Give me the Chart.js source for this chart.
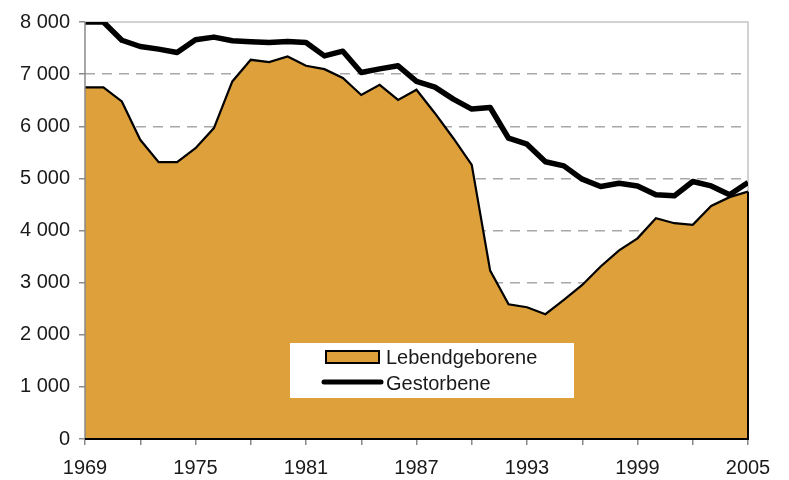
<!DOCTYPE html>
<html>
<head>
<meta charset="utf-8">
<script src="https://cdn.jsdelivr.net/npm/chart.js@4.4.0/dist/chart.umd.min.js"></script>
<style>
  html, body { margin: 0; padding: 0; background: #fff; }
</style>
</head>
<body>
<canvas id="birthsChart" width="789" height="480"></canvas>
<script>
// Jahre 1969 - 2005
const years = [1969, 1970, 1971, 1972, 1973, 1974, 1975, 1976, 1977, 1978, 1979, 1980,
    1981, 1982, 1983, 1984, 1985, 1986, 1987, 1988, 1989, 1990, 1991, 1992, 1993,
    1994, 1995, 1996, 1997, 1998, 1999, 2000, 2001, 2002, 2003, 2004, 2005];

const lebendgeborene = [6745, 6745, 6475, 5740, 5310, 5310, 5580, 5965, 6860, 7275, 7230, 7340,
    7160, 7095, 6925, 6600, 6795, 6505, 6700, 6250, 5770, 5260, 3230, 2585, 2528,
    2395, 2670, 2955, 3310, 3620, 3850, 4235, 4140, 4110, 4470, 4640, 4745];

const gestorbene = [8000, 8000, 7650, 7530, 7480, 7415, 7660, 7710, 7640, 7620, 7605, 7625,
    7605, 7350, 7440, 7030, 7100, 7160, 6860, 6750, 6520, 6330, 6360, 5770, 5655,
    5320, 5240, 4985, 4845, 4905, 4855, 4685, 4665, 4940, 4855, 4685, 4920];

const xLabelYears = [1969, 1975, 1981, 1987, 1993, 1999, 2005];
const FONT = "'Liberation Sans', Arial, sans-serif";
const ORANGE = "#dea03b";

function toPoints(values) {
    return years.map((y, i) => ({ x: y, y: values[i] }));
}

function formatThousands(v) {
    if (v === 0) return "0";
    return Math.floor(v / 1000) + " 000";
}

// draws the frame edges over the filled area and the legend inside the plot
const frameAndLegend = {
    id: "frameAndLegend",
    beforeDatasetsDraw(chart) {
        const ctx = chart.ctx;
        const area = chart.chartArea;
        ctx.save();
        // top and right frame lines
        ctx.strokeStyle = "#c4c4c4";
        ctx.lineWidth = 1.5;
        ctx.beginPath();
        ctx.moveTo(area.left, area.top);
        ctx.lineTo(area.right, area.top);
        ctx.lineTo(area.right, area.bottom);
        ctx.stroke();
        ctx.restore();
    },
    afterDatasetsDraw(chart) {
        const ctx = chart.ctx;
        const area = chart.chartArea;
        const xs = chart.scales.x;
        const ys = chart.scales.y;
        ctx.save();

        // left axis line
        ctx.strokeStyle = "#8a8a8a";
        ctx.lineWidth = 1.5;
        ctx.beginPath();
        ctx.moveTo(area.left, area.top);
        ctx.lineTo(area.left, area.bottom);
        ctx.stroke();

        // closing edge of the area and the base line
        const xr = xs.getPixelForValue(years[years.length - 1]);
        ctx.strokeStyle = "#000";
        ctx.lineWidth = 2;
        ctx.beginPath();
        ctx.moveTo(xr, ys.getPixelForValue(lebendgeborene[lebendgeborene.length - 1]));
        ctx.lineTo(xr, ys.getPixelForValue(0));
        ctx.lineTo(area.left, ys.getPixelForValue(0));
        ctx.stroke();

        // legend
        ctx.fillStyle = "#fff";
        ctx.fillRect(290, 343, 284, 55);

        ctx.fillStyle = ORANGE;
        ctx.fillRect(326, 351, 53, 12);
        ctx.strokeStyle = "#000";
        ctx.lineWidth = 2;
        ctx.strokeRect(326, 351, 53, 12);

        ctx.lineWidth = 5;
        ctx.lineCap = "round";
        ctx.beginPath();
        ctx.moveTo(324, 382);
        ctx.lineTo(381, 382);
        ctx.stroke();

        ctx.fillStyle = "#1a1a1a";
        ctx.font = "20px " + FONT;
        ctx.textBaseline = "middle";
        ctx.textAlign = "left";
        ctx.fillText(chart.data.datasets[0].label, 386, 358);
        ctx.fillText(chart.data.datasets[1].label, 386, 384);

        ctx.restore();
    }
};

const chart = new Chart(document.getElementById("birthsChart").getContext("2d"), {
    type: "line",
    data: {
        datasets: [
            {
                label: "Lebendgeborene",
                data: toPoints(lebendgeborene),
                borderColor: "#000",
                borderWidth: 2.2,
                backgroundColor: ORANGE,
                fill: "origin",
                pointRadius: 0,
                tension: 0,
                order: 2,
            },
            {
                label: "Gestorbene",
                data: toPoints(gestorbene),
                borderColor: "#000",
                borderWidth: 5.5,
                fill: false,
                pointRadius: 0,
                tension: 0,
                borderJoinStyle: "round",
                order: 1,
            },
        ],
    },
    options: {
        responsive: false,
        animation: false,
        devicePixelRatio: 1,
        layout: {
            padding: { top: 22, right: 41, left: 0, bottom: 0 },
        },
        plugins: {
            legend: { display: false },
            tooltip: { enabled: false },
        },
        scales: {
            x: {
                type: "linear",
                min: 1969,
                max: 2005,
                afterFit: (scale) => { scale.height = 41; },
                border: { display: false },
                grid: {
                    drawOnChartArea: false,
                    drawTicks: true,
                    tickLength: 6,
                    color: "#8a8a8a",
                    lineWidth: 1.5,
                },
                ticks: {
                    stepSize: 3,
                    padding: 11,
                    color: "#1a1a1a",
                    font: { family: FONT, size: 20 },
                    maxRotation: 0,
                    autoSkip: false,
                    callback: (v) => (xLabelYears.includes(v) ? String(v) : ""),
                },
            },
            y: {
                min: 0,
                max: 8000,
                afterFit: (scale) => { scale.width = 85; },
                border: { display: false, dash: [10, 7] },
                grid: {
                    color: (c) => (c.tick && c.tick.value === 8000 ? "rgba(0,0,0,0)" : "#a8a8a8"),
                    lineWidth: 1.5,
                    drawTicks: true,
                    tickLength: 6,
                    tickColor: "#8a8a8a",
                },
                ticks: {
                    stepSize: 1000,
                    padding: 9,
                    color: "#1a1a1a",
                    font: { family: FONT, size: 20 },
                    callback: (v) => formatThousands(v),
                },
            },
        },
    },
    plugins: [frameAndLegend],
});
</script>
</body>
</html>
